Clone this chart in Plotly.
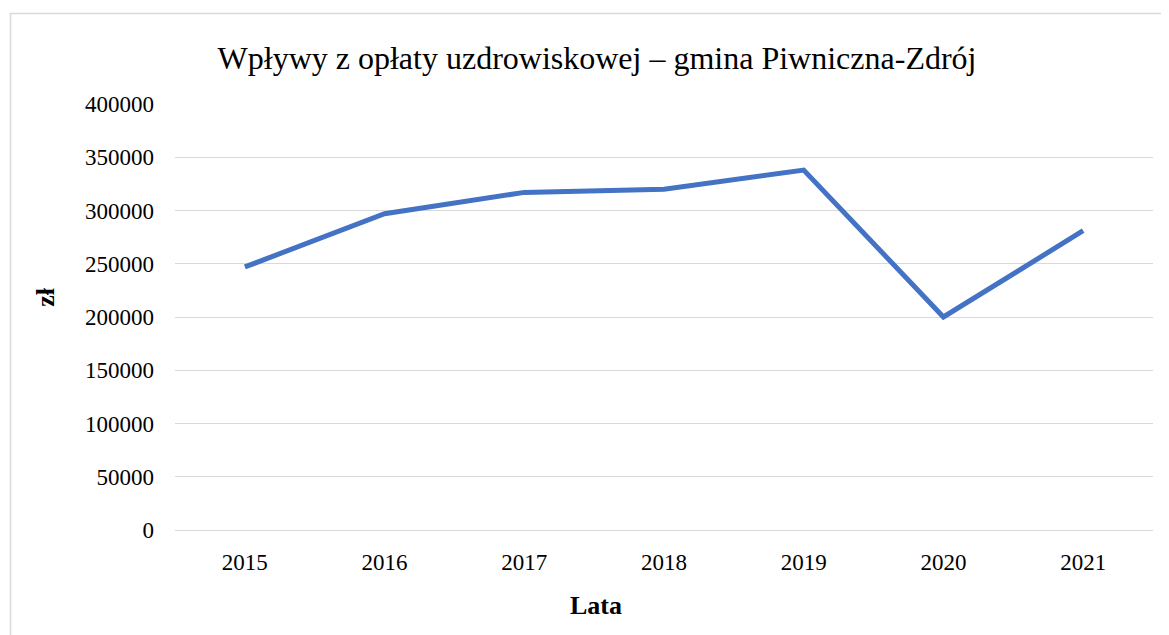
import plotly.graph_objects as go

years = ["2015", "2016", "2017", "2018", "2019", "2020", "2021"]
values = [247000, 297000, 317000, 320000, 338000, 200000, 281000]
y_ticks = [0, 50000, 100000, 150000, 200000, 250000, 300000, 350000, 400000]

OFF = 8  # default page body margin
W, H = 1169 - OFF, 635 - OFF
L, R, T, B = 175 - OFF, 16, 104 - OFF, 104.5
pw = W - L - R
ph = H - T - B

FONT = "Liberation Serif"

fig = go.Figure()
fig.add_trace(go.Scatter(
    x=years, y=values, mode="lines",
    line=dict(color="#4472C4", width=5),
    showlegend=False, hoverinfo="x+y",
))

def px_x(x):
    return (x - OFF - L) / pw

def px_y(y):
    return (H - B - (y - OFF)) / ph

fig.update_layout(
    width=W, height=H,
    margin=dict(l=L, r=R, t=T, b=B),
    paper_bgcolor="white", plot_bgcolor="white",
    font=dict(family=FONT, color="#000000", size=22),
    title=dict(
        text="Wpływy z opłaty uzdrowiskowej – gmina Piwniczna-Zdrój",
        x=(597 - OFF) / W, xanchor="center", y=1 - (58 - OFF) / H, yanchor="middle",
        font=dict(family=FONT, size=32, color="#000000"),
    ),
    xaxis=dict(
        type="category", range=[-0.5, 6.5],
        showgrid=False, showline=False, zeroline=False,
        ticks="", ticklabelstandoff=16,
        tickfont=dict(family=FONT, size=23),
    ),
    yaxis=dict(
        range=[0, 400000], tickvals=y_ticks, ticktext=[str(v) for v in y_ticks],
        showgrid=True, gridcolor="#D9D9D9", gridwidth=1.3,
        zeroline=True, zerolinecolor="#D9D9D9", zerolinewidth=1.3,
        showline=False, ticks="", ticklabelstandoff=20,
        tickfont=dict(family=FONT, size=23),
    ),
    annotations=[
        dict(text="<b>Lata</b>", xref="paper", yref="paper",
             x=px_x(596), y=px_y(606), xanchor="center", yanchor="middle",
             showarrow=False, font=dict(family=FONT, size=26, color="#000000")),
        dict(text="<b>zł</b>", xref="paper", yref="paper",
             x=px_x(46), y=px_y(297), xanchor="center", yanchor="middle",
             textangle=-90, showarrow=False,
             font=dict(family=FONT, size=26, color="#000000")),
    ],
    shapes=[dict(
        type="rect", xref="paper", yref="paper",
        x0=px_x(10.5), x1=px_x(1168), y0=px_y(640), y1=px_y(13.5),
        line=dict(color="#D9D9D9", width=1.5), fillcolor="rgba(0,0,0,0)",
        layer="below",
    )],
)

fig.write_html("out.html")
